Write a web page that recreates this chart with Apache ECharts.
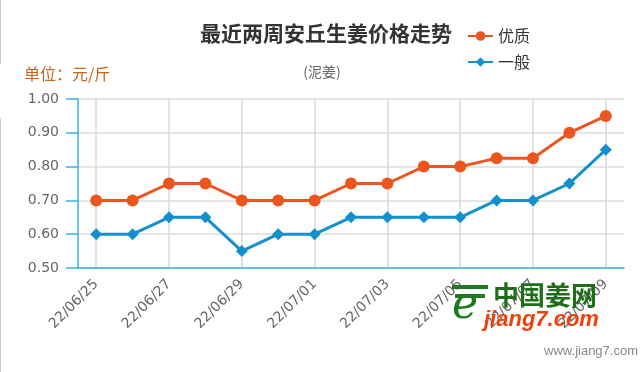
<!DOCTYPE html>
<html><head><meta charset="utf-8">
<script src="https://cdn.jsdelivr.net/npm/echarts@6/dist/echarts.min.js"></script>
<style>html,body{margin:0;padding:0;background:#fff}#c{width:644px;height:372px}</style>
</head><body><div id="c"></div>
<script>
const categories = ['22/06/25','22/06/26','22/06/27','22/06/28','22/06/29','22/06/30','22/07/01','22/07/02','22/07/03','22/07/04','22/07/05','22/07/06','22/07/07','22/07/08','22/07/09'];
const premium = [0.70,0.70,0.75,0.75,0.70,0.70,0.70,0.75,0.75,0.80,0.80,0.825,0.825,0.90,0.95];
const ordinary = [0.60,0.60,0.65,0.65,0.55,0.60,0.60,0.65,0.65,0.65,0.65,0.70,0.70,0.75,0.85];
const seriesNames = ['优质','一般'];
const yTicks = {min:0.5, max:1.0, interval:0.1};

const cjk = '"Noto Sans CJK SC", "Noto Sans", sans-serif';
const axisBlue = '#3ab0e2';
const chart = echarts.init(document.getElementById('c'), null, {renderer:'canvas'});
chart.setOption({
  animation:false,
  backgroundColor:'#fff',
  title:[
    {text:'最近两周安丘生姜价格走势', left:195, top:18, textStyle:{fontSize:21, fontWeight:'bold', color:'#333', fontFamily:cjk}},
    {text:'(泥姜)', left:'center', top:60, textStyle:{fontSize:14, fontWeight:'normal', color:'#666', fontFamily:cjk}}
  ],
  legend:{
    orient:'vertical', left:462, top:23, itemWidth:25, itemHeight:12, itemGap:10,
    data:seriesNames,
    textStyle:{fontSize:16, color:'#333', fontFamily:cjk}
  },
  grid:{left:78, right:20, top:99, bottom:104},
  xAxis:{
    type:'category', data:categories, boundaryGap:true,
    axisLine:{lineStyle:{color:axisBlue, width:1.5}},
    axisTick:{alignWithLabel:true, interval:1, length:12, lineStyle:{color:axisBlue, width:1.5}},
    axisLabel:{interval:1, rotate:45, margin:14, fontSize:14, color:'#666', fontFamily:'"DejaVu Sans", sans-serif'},
    splitLine:{show:true, alignWithLabel:true, interval:1, lineStyle:{color:'#d8d8d8', width:1.5}}
  },
  yAxis:{
    type:'value', min:yTicks.min, max:yTicks.max, interval:yTicks.interval,
    axisLine:{show:true, lineStyle:{color:axisBlue, width:1.5}},
    axisTick:{show:true, length:12, lineStyle:{color:axisBlue, width:1.5}},
    axisLabel:{margin:19, fontSize:14, color:'#666', fontFamily:'"DejaVu Sans", sans-serif', formatter:v=>v.toFixed(2)},
    splitLine:{show:true, lineStyle:{color:'#dcdcdc', width:1.5}}
  },
  series:[
    {name:seriesNames[0], type:'line', data:premium, symbol:'circle', symbolSize:12,
     itemStyle:{color:'#ea561d'}, lineStyle:{width:3, color:'#ea561d'}},
    {name:seriesNames[1], type:'line', data:ordinary, symbol:'diamond', symbolSize:12,
     itemStyle:{color:'#1590cc'}, lineStyle:{width:3, color:'#1590cc'}}
  ],
  graphic:[
    {type:'line', shape:{x1:0.5,y1:0,x2:0.5,y2:64}, style:{stroke:'#d0d0d0', lineWidth:1}},
    {type:'line', shape:{x1:0.5,y1:118,x2:0.5,y2:372}, style:{stroke:'#d0d0d0', lineWidth:1}},
    {type:'text', left:24, top:66, style:{text:'单位：元/斤', fill:'#c8641e', font:'16px '+cjk}},
    {type:'text', left:452, top:285, z:100, style:{text:'e', fill:'#1e7a1e', font:'italic 44px "DejaVu Serif", serif'}},
    {type:'rect', left:452, top:285, z:100, shape:{width:36,height:4}, style:{fill:'#1e7a1e'}},
    {type:'rect', left:455, top:294, z:100, shape:{width:30,height:4}, style:{fill:'#1e7a1e'}},
    {type:'text', left:493, top:282, z:100, style:{text:'中国姜网', fill:'#1e6e1a', font:'bold 26px '+cjk}},
    {type:'text', left:484, top:309, z:100, style:{text:'jiang7.com', fill:'#f0400c', font:'italic bold 22px "Liberation Sans", sans-serif'}},
    {type:'text', right:6, top:345, style:{text:'www.jiang7.com', fill:'#888', font:'13px "Liberation Sans", sans-serif'}}
  ]
});
</script></body></html>
